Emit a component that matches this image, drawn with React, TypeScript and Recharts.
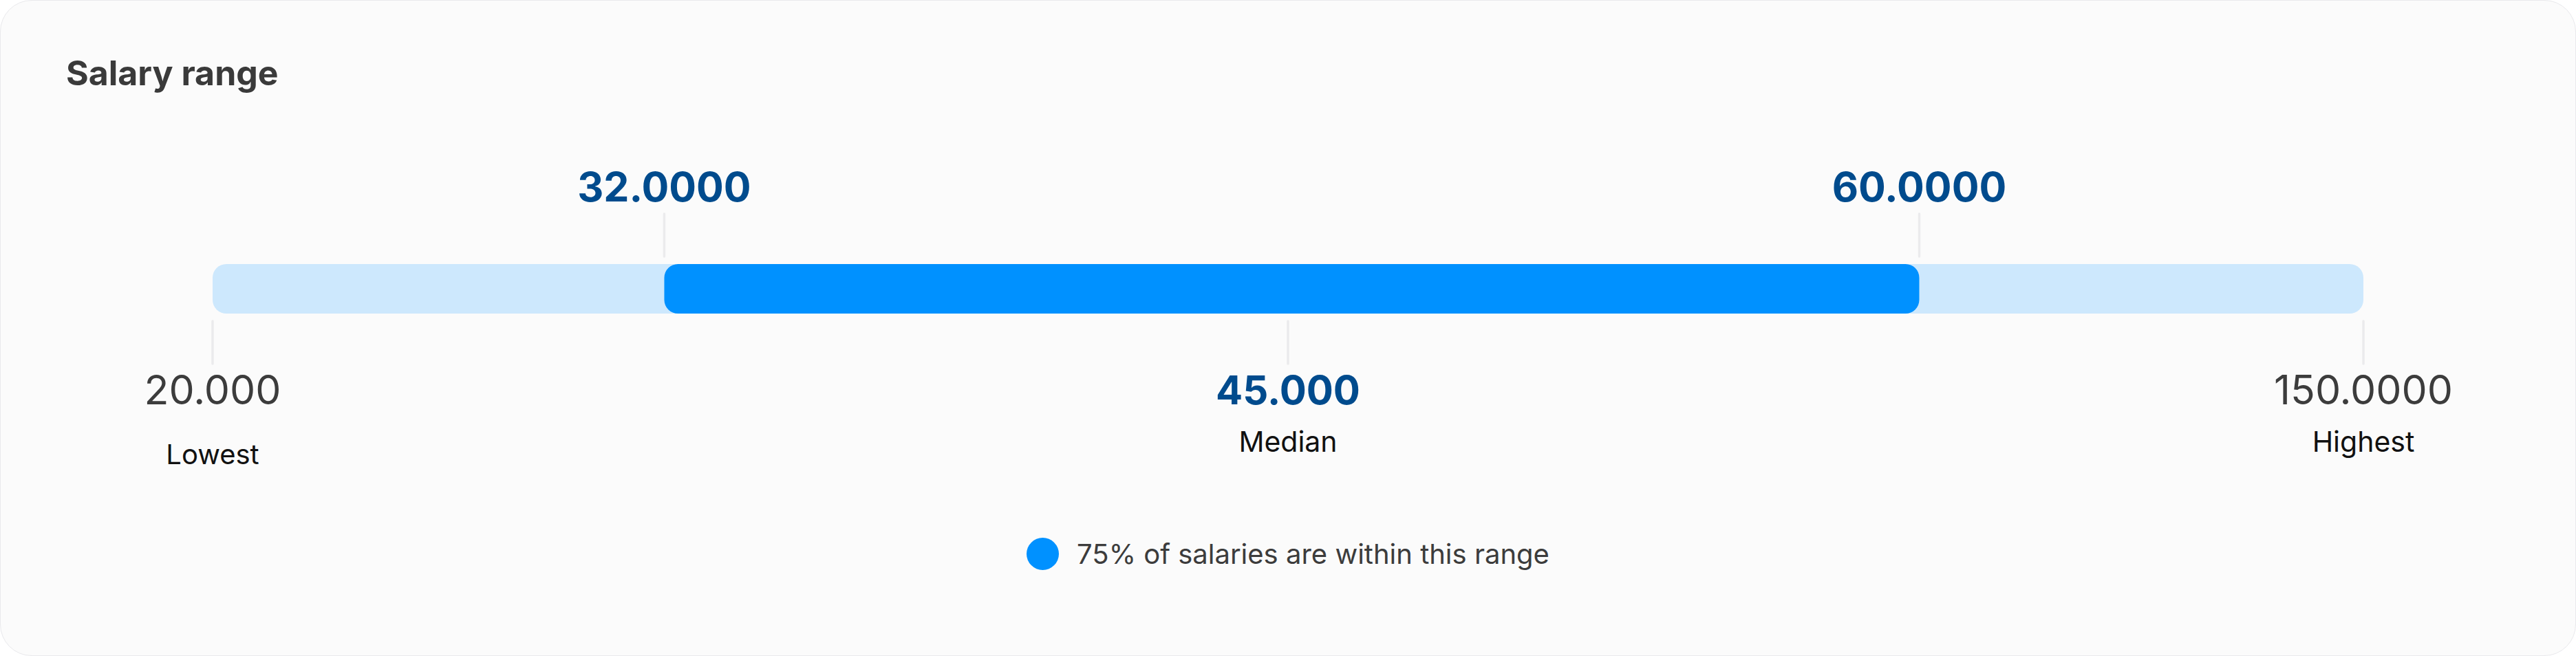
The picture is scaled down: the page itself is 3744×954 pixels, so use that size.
import React from 'react';
import { BarChart, Bar, XAxis, YAxis, Legend } from 'recharts';

// salary markers, in thousands
const markerKeys = ['lowest', 'q1', 'median', 'q3', 'highest'];
const markerValues = [20, 32, 45, 60, 150];
const markerLabels = ['20.000', '32.0000', '45.000', '60.0000', '150.0000'];
const markerCaptions = ['Lowest', '', 'Median', '', 'Highest'];

const fullRange = [20, 150];
const coreRange = [32, 60];
const coreLegend = '75% of salaries are within this range';

// where each marker sits along the track (0..1), the design is not linear
const trackStops = [0, 0.21, 0.5, 0.7935, 1];

const place = (v: number) => {
  for (let i = 0; i < markerValues.length - 1; i++) {
    const a = markerValues[i];
    const b = markerValues[i + 1];
    if (v <= b) {
      return trackStops[i] + ((v - a) / (b - a)) * (trackStops[i + 1] - trackStops[i]);
    }
  }
  return 1;
};

const data = [
  {
    name: 'Salary',
    full: fullRange.map(place),
    core: coreRange.map(place),
  },
];

const W = 3744;
const H = 954;
const BAR_TOP = 384;
const BAR_BOTTOM = 456;
const FONT = 'Inter, "Open Sans", sans-serif';
const DARK_BLUE = '#004B8D';
const TICK_GREY = '#EBEBED';

// quartiles are labelled above the track, the rest below it
const MarkerTick = (props: any) => {
  const { x, index } = props;
  const key = markerKeys[index];
  if (key === 'q1' || key === 'q3') {
    return (
      <g>
        <line x1={x} x2={x} y1={BAR_TOP - 11} y2={BAR_TOP - 73} stroke={TICK_GREY} strokeWidth={3.5} strokeLinecap="round" />
        <text x={x} y={293} textAnchor="middle" fontFamily={FONT} fontSize={59} fontWeight={700} fill={DARK_BLUE}>
          {markerLabels[index]}
        </text>
      </g>
    );
  }
  const isMedian = key === 'median';
  const captionY = key === 'lowest' ? 675 : 657;
  return (
    <g>
      <line x1={x} x2={x} y1={BAR_BOTTOM + 11} y2={BAR_BOTTOM + 73} stroke={TICK_GREY} strokeWidth={3.5} strokeLinecap="round" />
      <text
        x={x}
        y={588}
        textAnchor="middle"
        fontFamily={FONT}
        fontSize={isMedian ? 58 : 59}
        fontWeight={isMedian ? 700 : 400}
        fill={isMedian ? DARK_BLUE : '#3C3C3C'}
      >
        {markerLabels[index]}
      </text>
      <text x={x} y={captionY} textAnchor="middle" fontFamily={FONT} fontSize={key === 'lowest' ? 40 : 41} fill="#111111">
        {markerCaptions[index]}
      </text>
    </g>
  );
};

const LegendContent = () => (
  <div style={{ display: 'flex', justifyContent: 'center', alignItems: 'center', width: W }}>
    <span
      style={{ width: 47, height: 47, borderRadius: '50%', background: '#0091FF', marginRight: 26, display: 'inline-block' }}
    />
    <span style={{ fontFamily: FONT, fontSize: 40, color: '#3C3C3C', lineHeight: '47px' }}>{coreLegend}</span>
  </div>
);

export default function App() {
  return (
    <div style={{ position: 'absolute', left: 0, top: 0, width: W, height: H, background: '#ffffff' }}>
      <div
        style={{
          position: 'absolute',
          left: 0,
          top: 0,
          width: W,
          height: H,
          boxSizing: 'border-box',
          borderRadius: 46,
          border: '1px solid #E9E9EC',
          background: '#FBFBFB',
          overflow: 'hidden',
        }}
      >
        <div
          style={{
            position: 'absolute',
            left: 95,
            top: 80,
            fontFamily: FONT,
            fontWeight: 700,
            fontSize: 50,
            lineHeight: '50px',
            color: '#3A3A3A',
            whiteSpace: 'nowrap',
          }}
        >
          Salary range
        </div>
        <div style={{ position: 'absolute', left: -1, top: -1 }}>
          <BarChart
            width={W}
            height={H}
            layout="vertical"
            data={data}
            margin={{ top: 344, right: 309, bottom: 457, left: 309 }}
            barCategoryGap={0}
            barGap={-72}
            barSize={72}
          >
            <XAxis
              type="number"
              orientation="bottom"
              domain={[0, 1]}
              ticks={markerValues.map(place)}
              interval={0}
              height={1}
              tickLine={false}
              axisLine={false}
              tick={<MarkerTick />}
            />
            <YAxis type="category" dataKey="name" hide width={0} />
            <Bar dataKey="full" fill="#CDE8FD" radius={20} isAnimationActive={false} />
            <Bar dataKey="core" name={coreLegend} fill="#0091FF" radius={20} isAnimationActive={false} />
            <Legend
              layout="horizontal"
              verticalAlign="middle"
              align="center"
              content={<LegendContent />}
              wrapperStyle={{ top: 782, left: 0, width: W }}
            />
          </BarChart>
        </div>
      </div>
    </div>
  );
}
